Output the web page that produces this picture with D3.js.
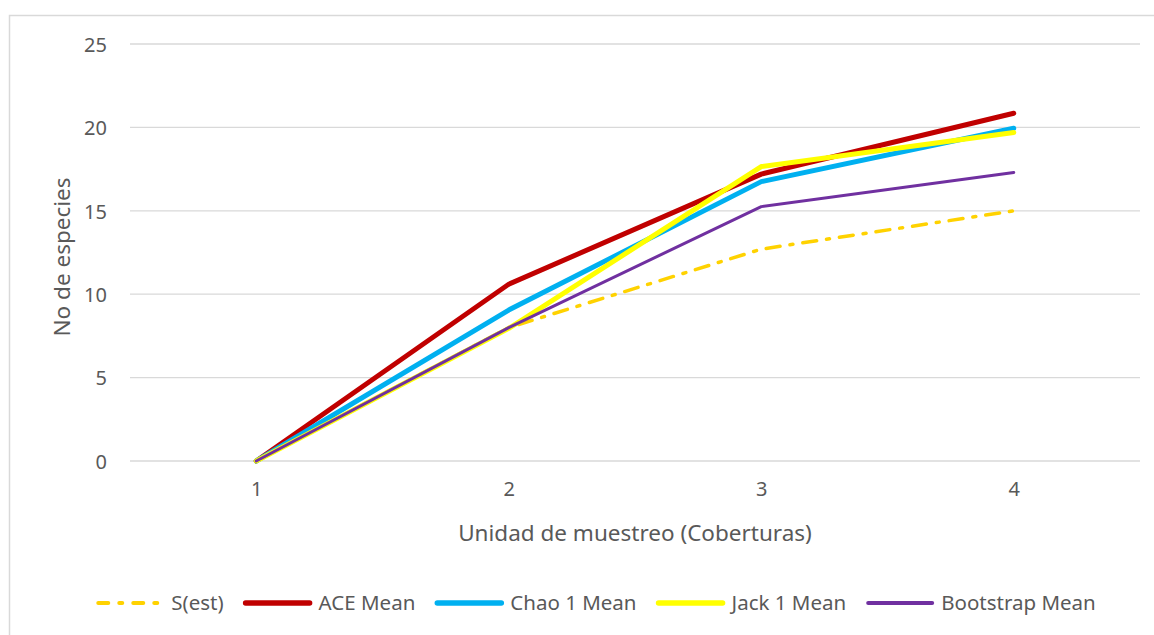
<!DOCTYPE html>
<html>
<head>
<meta charset="UTF-8">
<title>No de especies</title>
<script src="https://cdn.jsdelivr.net/npm/d3@7/dist/d3.min.js"></script>
<style>
  body { margin: 0; background: #fff; }
  svg text { font-family: "Noto Sans", "Open Sans", sans-serif; fill: #595959; }
</style>
</head>
<body>
<div id="chart"></div>
<script>
// unidades de muestreo
var categories = ["1", "2", "3", "4"];
var yTicks = [0, 5, 10, 15, 20, 25];
// valores
var sEst      = [0, 8.0, 12.7, 15.0];
var aceMean   = [0, 10.6, 17.2, 20.85];
var chaoMean  = [0, 9.05, 16.75, 19.95];
var jackMean  = [0, 7.95, 17.65, 19.7];
var bootMean  = [0, 8.0, 15.25, 17.3];

var seriesNames = ["S(est)", "ACE Mean", "Chao 1 Mean", "Jack 1 Mean", "Bootstrap Mean"];

var width = 1154, height = 635;
var margin = {top: 44, right: 14, bottom: 173, left: 130};

var series = [
  {name: seriesNames[0], values: sEst,     color: "#FFD200", w: 3.5, dash: "14,10,3,10"},
  {name: seriesNames[1], values: aceMean,  color: "#C00000", w: 5,   dash: null},
  {name: seriesNames[2], values: chaoMean, color: "#00B0F0", w: 5,   dash: null},
  {name: seriesNames[3], values: jackMean, color: "#FFFF00", w: 5,   dash: null},
  {name: seriesNames[4], values: bootMean, color: "#7030A0", w: 3,   dash: null}
];

var svg = d3.select("#chart").append("svg")
  .attr("width", width)
  .attr("height", height);

// marco del gráfico
svg.append("rect")
  .attr("x", 9.5).attr("y", 15.5)
  .attr("width", 1160).attr("height", 640)
  .attr("fill", "none")
  .attr("stroke", "#d9d9d9")
  .attr("stroke-width", 1.5);

var x = d3.scalePoint()
  .domain(categories)
  .range([margin.left, width - margin.right])
  .padding(0.5);

var y = d3.scaleLinear()
  .domain([0, 25])
  .range([height - margin.bottom - 1, margin.top]);

// líneas de cuadrícula
svg.append("g")
  .selectAll("line")
  .data(yTicks)
  .join("line")
  .attr("x1", margin.left).attr("x2", width - margin.right)
  .attr("y1", function(d){ return y(d); })
  .attr("y2", function(d){ return y(d); })
  .attr("stroke", "#d9d9d9")
  .attr("stroke-width", 1.3);

// eje y
var yAxis = svg.append("g")
  .attr("transform", "translate(" + (margin.left - 23) + ",0)")
  .call(d3.axisLeft(y).tickValues(yTicks).tickSize(0).tickPadding(0));
yAxis.select(".domain").remove();
yAxis.selectAll("text").attr("font-size", 20).attr("dy", "0.36em");

// eje x
var xAxis = svg.append("g")
  .attr("transform", "translate(0," + (y(0) + 21) + ")")
  .call(d3.axisBottom(x).tickSize(0).tickPadding(0));
xAxis.select(".domain").remove();
xAxis.selectAll("text").attr("font-size", 20);

// títulos
svg.append("text")
  .attr("x", 635)
  .attr("y", 541)
  .attr("text-anchor", "middle")
  .attr("font-size", 22.5)
  .text("Unidad de muestreo (Coberturas)");

svg.append("text")
  .attr("transform", "translate(70," + 257 + ") rotate(-90)")
  .attr("text-anchor", "middle")
  .attr("font-size", 22.5)
  .text("No de especies");

// líneas
var line = d3.line()
  .x(function(d, i){ return x(categories[i]); })
  .y(function(d){ return y(d); });

svg.append("g")
  .selectAll("path")
  .data(series)
  .join("path")
  .attr("d", function(d){ return line(d.values); })
  .attr("fill", "none")
  .attr("stroke", function(d){ return d.color; })
  .attr("stroke-width", function(d){ return d.w; })
  .attr("stroke-dasharray", function(d){ return d.dash; })
  .attr("stroke-linecap", "round")
  .attr("stroke-linejoin", "round");

// leyenda
var legend = svg.append("g");
var items = legend.selectAll("g")
  .data(series)
  .join("g");
items.append("line")
  .attr("x1", 2).attr("x2", 66)
  .attr("y1", 0).attr("y2", 0)
  .attr("stroke", function(d){ return d.color; })
  .attr("stroke-width", function(d){ return d.w === 3 ? 4 : (d.dash ? 4 : 5.5); })
  .attr("stroke-dasharray", function(d){ return d.dash ? "10,11,3,11" : null; })
  .attr("stroke-linecap", "round");
items.append("text")
  .attr("x", 75)
  .attr("dy", "0.35em")
  .attr("font-size", 20.5)
  .text(function(d){ return d.name; });

var pos = 0;
items.each(function(){
  var g = d3.select(this);
  var tw = g.select("text").node().getComputedTextLength();
  g.attr("transform", "translate(" + pos + ",0)");
  pos += 75 + tw + 20;
});
var total = pos - 20;
legend.attr("transform", "translate(" + (596 - total / 2) + ",603)");
</script>
</body>
</html>
